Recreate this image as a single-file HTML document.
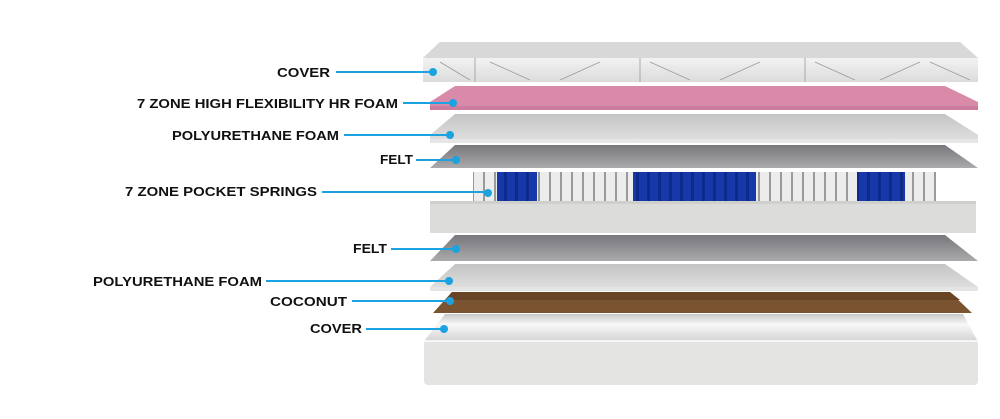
<!DOCTYPE html>
<html><head><meta charset="utf-8"><style>
html,body{margin:0;padding:0;background:#fff;width:1000px;height:419px;overflow:hidden}
text{font-family:"Liberation Sans",Arial,sans-serif;font-weight:bold;font-size:13px;fill:#111}
</style></head><body>
<svg width="1000" height="419" viewBox="0 0 1000 419" xmlns="http://www.w3.org/2000/svg">
<defs>
<linearGradient id="cov" x1="0" y1="0" x2="0" y2="1"><stop offset="0" stop-color="#f2f2f2"/><stop offset="1" stop-color="#dcdcdc"/></linearGradient>
<linearGradient id="felt" x1="0" y1="0" x2="0" y2="1"><stop offset="0" stop-color="#77777c"/><stop offset="1" stop-color="#ababad"/></linearGradient>
<linearGradient id="pu" x1="0" y1="0" x2="0" y2="1"><stop offset="0" stop-color="#c4c4c4"/><stop offset="1" stop-color="#e2e2e2"/></linearGradient>
<linearGradient id="wb" x1="0" y1="0" x2="0" y2="1"><stop offset="0" stop-color="#c8c8c8"/><stop offset="0.4" stop-color="#f8f8f8"/><stop offset="1" stop-color="#d6d6d6"/></linearGradient>
<pattern id="blue" width="11" height="40" patternUnits="userSpaceOnUse"><rect width="11" height="40" fill="#0b2a8c"/><rect x="1" width="8" height="40" fill="#1638a8"/></pattern>
<pattern id="white" width="11" height="40" patternUnits="userSpaceOnUse"><rect width="11" height="40" fill="#9a9a9a"/><rect x="1" width="9" height="40" fill="#ececec"/></pattern>
</defs>
<path d="M440 42 L960 42 L978 58 L978 82 L423 82 L423 58 Z" fill="#dedede"/>
<path d="M440 42 L960 42 L978 58 L423 58 Z" fill="#d8d8d8"/>
<rect x="423" y="58" width="555" height="24" fill="url(#cov)"/>
<g stroke="#9a9a9a" stroke-width="0.8" fill="none">
<path d="M475 58v24M640 58v24M805 58v24M440 62l30 18M490 62l40 18M560 80l40-18M650 62l40 18M720 80l40-18M815 62l40 18M880 80l40-18M930 62l40 18"/>
</g>
<path d="M455 86 L945 86 L978 102 L978 110 L430 110 L430 102 Z" fill="#d98aa9"/>
<rect x="430" y="106" width="548" height="4" fill="#cc7c9c"/>
<path d="M455 114 L945 114 L978 135 L978 143 L430 143 L430 135 Z" fill="url(#pu)"/>
<rect x="430" y="139" width="548" height="4" fill="#e6e6e6"/>
<path d="M455 145 L945 145 L978 168 L430 168 Z" fill="url(#felt)"/>
<rect x="473" y="172" width="463" height="30" fill="url(#white)"/>
<rect x="497" y="172" width="40" height="30" fill="url(#blue)"/>
<rect x="633" y="172" width="123" height="30" fill="url(#blue)"/>
<rect x="857" y="172" width="48" height="30" fill="url(#blue)"/>
<rect x="430" y="201" width="546" height="32" fill="#dcdcda"/>
<rect x="430" y="201" width="546" height="3" fill="#cfcfcd"/>
<path d="M455 235 L945 235 L978 261 L430 261 Z" fill="url(#felt)"/>
<path d="M455 264 L945 264 L978 287 L978 291 L430 291 L430 287 Z" fill="url(#pu)"/>
<rect x="430" y="287" width="548" height="4" fill="#e4e4e4"/>
<path d="M452 292 L950 292 L972 313 L433 313 Z" fill="#7a5430"/>
<path d="M452 292 L950 292 L960 300 L445 300 Z" fill="#684424"/>
<path d="M445 314 L963 314 L977 340 L425 340 Z" fill="url(#wb)"/>
<rect x="424" y="340" width="554" height="45" rx="4" fill="#e4e4e2"/>
<rect x="424" y="340" width="554" height="2" fill="#f6f6f6"/>
<g stroke="#1aa3e0" stroke-width="2" fill="#1aa3e0">
<line x1="336" y1="72" x2="433" y2="72"/><circle cx="433" cy="72" r="4" stroke="none"/>
<line x1="403" y1="103" x2="453" y2="103"/><circle cx="453" cy="103" r="4" stroke="none"/>
<line x1="344" y1="135" x2="450" y2="135"/><circle cx="450" cy="135" r="4" stroke="none"/>
<line x1="416" y1="160" x2="456" y2="160"/><circle cx="456" cy="160" r="4" stroke="none"/>
<line x1="322" y1="192" x2="488" y2="192"/><circle cx="488" cy="193" r="4" stroke="none"/>
<line x1="391" y1="249" x2="456" y2="249"/><circle cx="456" cy="249" r="4" stroke="none"/>
<line x1="266" y1="281" x2="449" y2="281"/><circle cx="449" cy="281" r="4" stroke="none"/>
<line x1="352" y1="301" x2="450" y2="301"/><circle cx="450" cy="301" r="4" stroke="none"/>
<line x1="366" y1="329" x2="444" y2="329"/><circle cx="444" cy="329" r="4" stroke="none"/>
</g>
<text x="277" y="77" textLength="53" lengthAdjust="spacingAndGlyphs">COVER</text>
<text x="137" y="108" textLength="261" lengthAdjust="spacingAndGlyphs">7 ZONE HIGH FLEXIBILITY HR FOAM</text>
<text x="172" y="140" textLength="167" lengthAdjust="spacingAndGlyphs">POLYURETHANE FOAM</text>
<text x="380" y="164" textLength="33" lengthAdjust="spacingAndGlyphs">FELT</text>
<text x="125" y="196" textLength="192" lengthAdjust="spacingAndGlyphs">7 ZONE POCKET SPRINGS</text>
<text x="353" y="253" textLength="34" lengthAdjust="spacingAndGlyphs">FELT</text>
<text x="93" y="286" textLength="169" lengthAdjust="spacingAndGlyphs">POLYURETHANE FOAM</text>
<text x="270" y="306" textLength="77" lengthAdjust="spacingAndGlyphs">COCONUT</text>
<text x="310" y="333" textLength="52" lengthAdjust="spacingAndGlyphs">COVER</text>
</svg>
</body></html>
